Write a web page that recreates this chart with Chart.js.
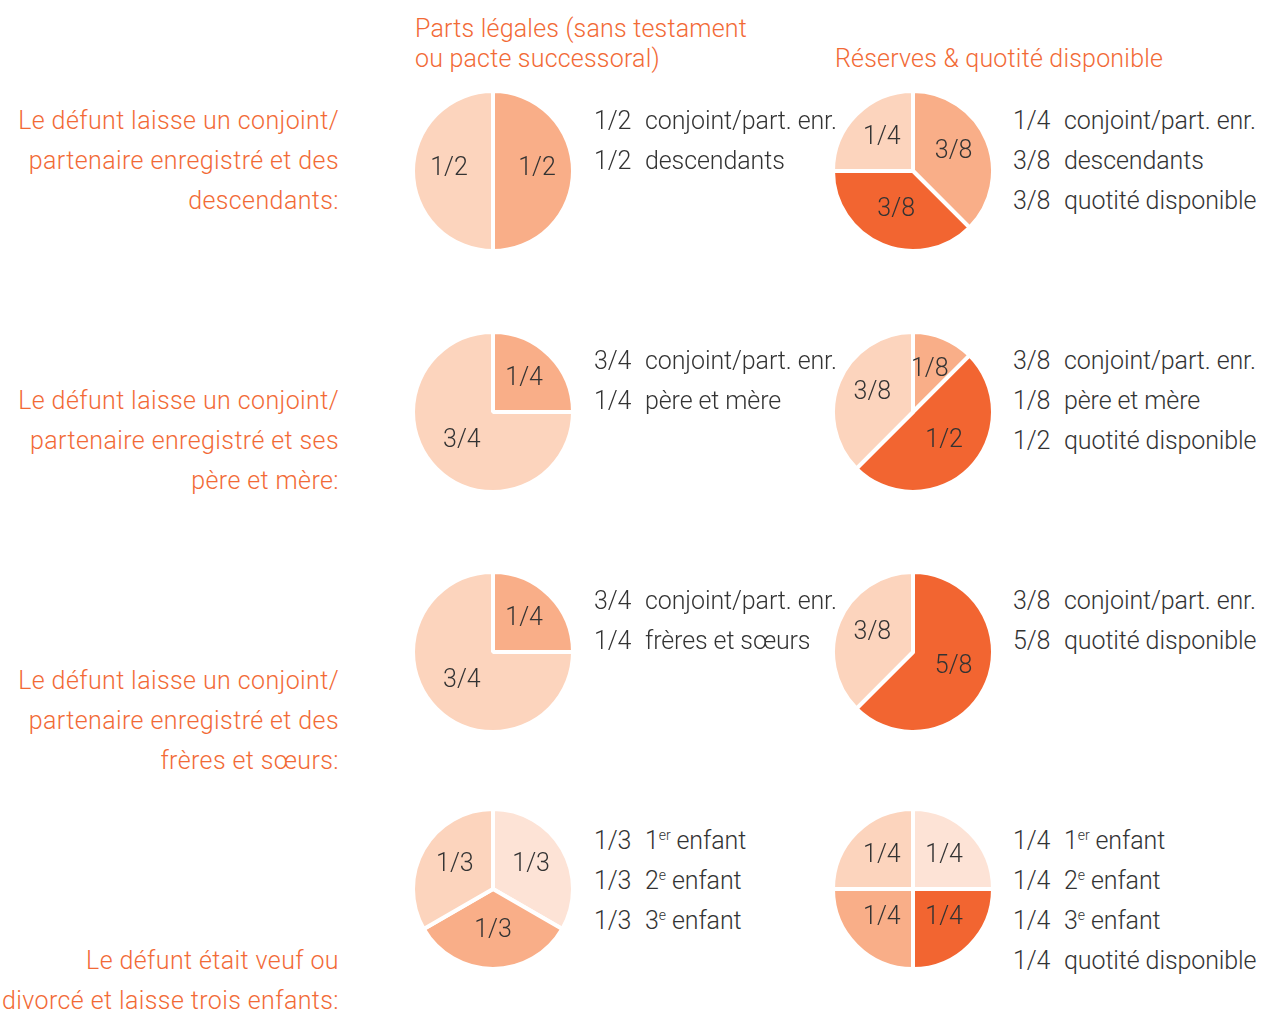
<!doctype html>
<html>
<head>
	<meta charset="utf-8">
	<title>Parts légales et réserves</title>
	<script src="https://cdn.jsdelivr.net/npm/chart.js@4"></script>
	<style>
	body {
		margin: 0;
		width: 1274px;
		height: 1012px;
		background: #fff;
		font-family: Roboto, sans-serif;
		font-weight: 300;
		position: relative;
		overflow: hidden;
	}
	.abs { position: absolute; white-space: nowrap; height: 20px; line-height: 20px; font-size: 25px; }
	.head { color: #f26a36; letter-spacing: 0.2px; }
	.cap { color: #f26a36; text-align: right; right: 935px; letter-spacing: 0.4px; }
	.leg { color: #333; letter-spacing: -0.1px; }
	.leg .f { display: inline-block; width: 51px; }
	.leg sup { font-size: 14px; vertical-align: 9px; line-height: 0; }
	canvas { position: absolute; }
	</style>
</head>
<body>
	<div id="page"></div>
	<script>
		// slice fractions, clockwise from 12 o'clock
		var legalFractions = [
			['1/2', '1/2'],
			['1/4', '3/4'],
			['1/4', '3/4'],
			['1/3', '1/3', '1/3']
		];
		var legalColors = [
			['#f9ae88', '#fcd4bd'],
			['#f9ae88', '#fcd4bd'],
			['#f9ae88', '#fcd4bd'],
			['#fde3d6', '#f9ae88', '#fcd4bd']
		];
		var reserveFractions = [
			['3/8', '3/8', '1/4'],
			['1/8', '1/2', '3/8'],
			['5/8', '3/8'],
			['1/4', '1/4', '1/4', '1/4']
		];
		var reserveColors = [
			['#f9ae88', '#f26531', '#fcd4bd'],
			['#f9ae88', '#f26531', '#fcd4bd'],
			['#f26531', '#fcd4bd'],
			['#fde3d6', '#f26531', '#f9ae88', '#fcd4bd']
		];
		var legalLegend = [
			[['1/2', 'conjoint/part. enr.'], ['1/2', 'descendants']],
			[['3/4', 'conjoint/part. enr.'], ['1/4', 'père et mère']],
			[['3/4', 'conjoint/part. enr.'], ['1/4', 'frères et sœurs']],
			[['1/3', '1<sup>er</sup> enfant'], ['1/3', '2<sup>e</sup> enfant'], ['1/3', '3<sup>e</sup> enfant']]
		];
		var reserveLegend = [
			[['1/4', 'conjoint/part. enr.'], ['3/8', 'descendants'], ['3/8', 'quotité disponible']],
			[['3/8', 'conjoint/part. enr.'], ['1/8', 'père et mère'], ['1/2', 'quotité disponible']],
			[['3/8', 'conjoint/part. enr.'], ['5/8', 'quotité disponible']],
			[['1/4', '1<sup>er</sup> enfant'], ['1/4', '2<sup>e</sup> enfant'], ['1/4', '3<sup>e</sup> enfant'], ['1/4', 'quotité disponible']]
		];
		var rowCaptions = [
			['Le défunt laisse un conjoint/', 'partenaire enregistré et des', 'descendants:'],
			['Le défunt laisse un conjoint/', 'partenaire enregistré et ses', 'père et mère:'],
			['Le défunt laisse un conjoint/', 'partenaire enregistré et des', 'frères et sœurs:'],
			['Le défunt était veuf ou', 'divorcé et laisse trois enfants:']
		];
		var headers = [
			['Parts légales (sans testament', 'ou pacte successoral)'],
			['Réserves & quotité disponible']
		];

		// layout (line centres)
		var rowCenters = [171, 412, 652, 889];
		var captionY = [121, 401, 681, 961];
		var legendY = [121, 361, 601, 841];
		var pieX = [493, 913];
		var legendX = [594, 1013];
		var headerX = [415, 835];
		var headerY = [29, 59];
		var R = 78;

		function toValue(f) {
			var p = f.split('/');
			return Number(p[0]) / Number(p[1]);
		}

		var sliceLabels = {
			id: 'sliceLabels',
			afterDatasetsDraw: function(chart) {
				var ctx = chart.ctx;
				var meta = chart.getDatasetMeta(0);
				var labels = chart.data.labels;
				ctx.save();
				ctx.font = '300 25px Roboto';
				ctx.fillStyle = '#333';
				ctx.textAlign = 'center';
				ctx.textBaseline = 'middle';
				meta.data.forEach(function(arc, i) {
					var a = (arc.startAngle + arc.endAngle) / 2;
					var r = arc.outerRadius * 0.55;
					ctx.fillText(labels[i], arc.x + Math.cos(a) * r, arc.y + Math.sin(a) * r - 2);
				});
				ctx.restore();
			}
		};

		var page = document.getElementById('page');

		function addLine(cls, x, cy, html, right) {
			var d = document.createElement('div');
			d.className = 'abs ' + cls;
			if (!right) d.style.left = x + 'px';
			d.style.top = (cy - 10) + 'px';
			d.innerHTML = html;
			page.appendChild(d);
		}

		function makePie(cx, cy, fracs, colors) {
			var c = document.createElement('canvas');
			var size = 2 * R + 12;
			c.width = size;
			c.height = size;
			c.style.left = (cx - size / 2) + 'px';
			c.style.top = (cy - size / 2) + 'px';
			c.style.width = size + 'px';
			c.style.height = size + 'px';
			page.appendChild(c);
			new Chart(c.getContext('2d'), {
				type: 'pie',
				data: {
					labels: fracs,
					datasets: [{
						data: fracs.map(toValue),
						backgroundColor: colors,
						borderColor: '#fff',
						borderWidth: 4
					}]
				},
				options: {
					responsive: false,
					animation: false,
					radius: R + 2,
					layout: { padding: 0 },
					plugins: { legend: { display: false }, tooltip: { enabled: false } }
				},
				plugins: [sliceLabels]
			});
		}

		headers[0].forEach(function(t, i) { addLine('head', headerX[0], headerY[i], t.replace('&', '&amp;')); });
		headers[1].forEach(function(t) { addLine('head', headerX[1], headerY[1], t.replace('&', '&amp;')); });

		for (var r = 0; r < 4; r++) {
			makePie(pieX[0], rowCenters[r], legalFractions[r], legalColors[r]);
			makePie(pieX[1], rowCenters[r], reserveFractions[r], reserveColors[r]);
			legalLegend[r].forEach(function(it, i) {
				addLine('leg', legendX[0], legendY[r] + i * 40, '<span class="f">' + it[0] + '</span>' + it[1]);
			});
			reserveLegend[r].forEach(function(it, i) {
				addLine('leg', legendX[1], legendY[r] + i * 40, '<span class="f">' + it[0] + '</span>' + it[1]);
			});
			rowCaptions[r].forEach(function(t, i) {
				addLine('cap', 0, captionY[r] + i * 40, t, true);
			});
		}
	</script>
</body>
</html>
